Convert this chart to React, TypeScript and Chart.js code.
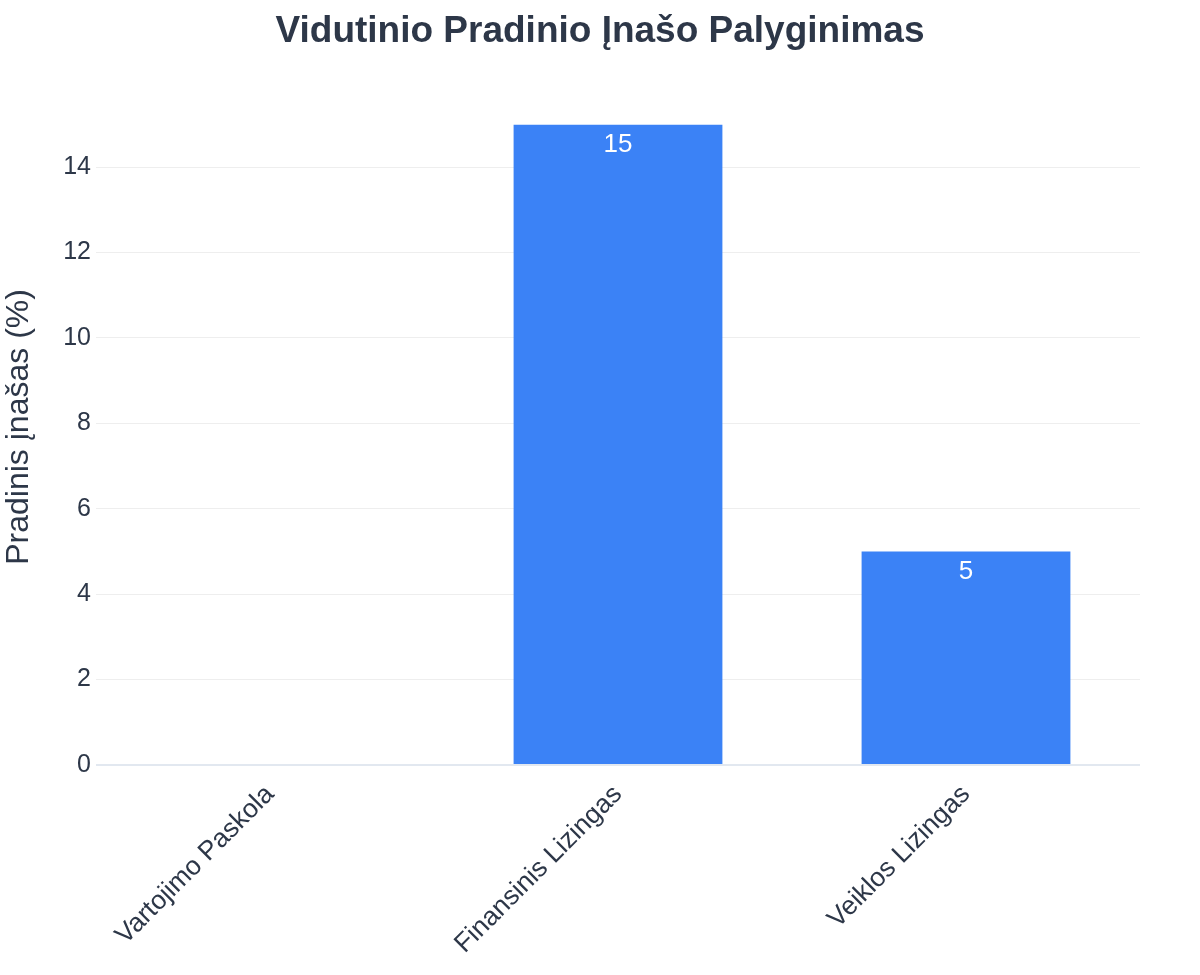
import { useEffect, useRef } from 'react';
import Chart from 'chart.js/auto';

const categories = ['Vartojimo Paskola', 'Finansinis Lizingas', 'Veiklos Lizingas'];
const downPayment = [0, 15, 5];
const yTicks = [0, 2, 4, 6, 8, 10, 12, 14];

const textColor = '#2d3748';
const barColor = '#3b82f6';
const fontFamily = '"Liberation Sans", Arial, sans-serif';

// simple inline value labels, drawn inside the top of each bar
const valueLabels = {
    id: 'valueLabels',
    afterDatasetsDraw(chart: any) {
        const ctx = chart.ctx;
        const meta = chart.getDatasetMeta(0);
        ctx.save();
        ctx.fillStyle = '#ffffff';
        ctx.font = `26px ${fontFamily}`;
        ctx.textAlign = 'center';
        ctx.textBaseline = 'middle';
        meta.data.forEach((bar: any, i: number) => {
            const v = downPayment[i];
            if (!v) return;
            ctx.fillText(String(v), bar.x, bar.y + 20);
        });
        ctx.restore();
    },
};

const App = () => {
    const chartRef = useRef<HTMLCanvasElement | null>(null);

    useEffect(() => {
        document.body.style.margin = '0';
        const ctx = chartRef.current;
        if (!ctx) return;

        const chart = new Chart(ctx, {
            type: 'bar',
            data: {
                labels: categories,
                datasets: [{
                    label: 'Pradinis įnašas (%)',
                    data: downPayment,
                    backgroundColor: barColor,
                    borderWidth: 0,
                    barPercentage: 0.6,
                    categoryPercentage: 1,
                }],
            },
            options: {
                animation: false,
                responsive: false,
                layout: { padding: 0 },
                plugins: {
                    legend: { display: false },
                    tooltip: { enabled: false },
                    title: {
                        display: true,
                        text: 'Vidutinio Pradinio Įnašo Palyginimas',
                        color: textColor,
                        font: { family: fontFamily, size: 37, weight: 'bold' },
                        padding: { top: 10, bottom: 70 },
                    },
                },
                scales: {
                    x: {
                        grid: { display: false, drawTicks: false },
                        border: { display: false },
                        ticks: {
                            color: textColor,
                            font: { family: fontFamily, size: 26.5 },
                            minRotation: 45,
                            maxRotation: 45,
                            padding: 14,
                        },
                        afterFit(scale: any) { scale.height = 210; },
                    },
                    y: {
                        min: 0,
                        max: 15,
                        afterBuildTicks(scale: any) {
                            scale.ticks = yTicks.map((v) => ({ value: v }));
                        },
                        grid: {
                            drawTicks: false,
                            color: (c: any) => (c.tick && c.tick.value === 0 ? '#e2e8f0' : '#eeeeee'),
                            lineWidth: (c: any) => (c.tick && c.tick.value === 0 ? 2 : 1),
                        },
                        border: { display: false },
                        ticks: {
                            color: textColor,
                            font: { family: fontFamily, size: 25 },
                            padding: 5,
                        },
                        title: {
                            display: true,
                            text: '    Pradinis įnašas (%)',
                            color: textColor,
                            font: { family: fontFamily, size: 32 },
                            padding: 0,
                        },
                        afterFit(scale: any) { scale.width = 96; },
                    },
                    // empty right margin so the title stays centred on the page
                    yRight: {
                        position: 'right',
                        grid: { display: false, drawTicks: false },
                        border: { display: false },
                        ticks: { display: false },
                        afterFit(scale: any) { scale.width = 60; },
                    },
                },
            },
            plugins: [valueLabels],
        });

        return () => {
            chart.destroy();
        };
    }, []);

    return (
        <div style={{ width: 1200, height: 975 }}>
            <canvas ref={chartRef} width={1200} height={975} style={{ display: 'block' }}></canvas>
        </div>
    );
};
export default App;
